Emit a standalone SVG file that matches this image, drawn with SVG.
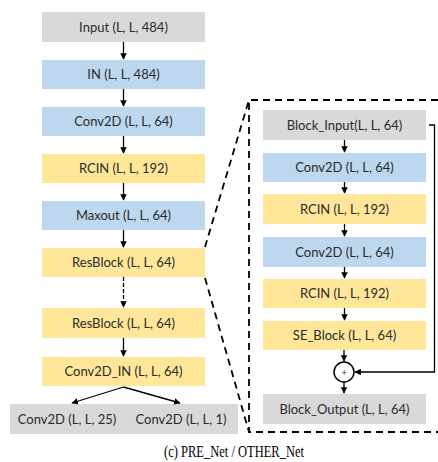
<svg xmlns="http://www.w3.org/2000/svg" width="438" height="462" viewBox="0 0 438 462">
<style>
.g{fill:#d9d9d9}.b{fill:#bdd7ee}.y{fill:#ffe699}
text{font-family:Lato,"Liberation Sans",Arial,sans-serif;font-size:13px;fill:#2b2b2b;text-anchor:middle}
.cap{font-family:"Liberation Serif","Times New Roman",serif;font-size:16px;fill:#000}
.ln{stroke:#000;stroke-width:1.3;fill:none}
.dl{stroke:#000;stroke-width:1.8;fill:none;stroke-dasharray:7,5}
</style>
<defs>
<marker id="ah" viewBox="0 0 10 10" refX="9" refY="5" markerWidth="5" markerHeight="5" orient="auto"><path d="M0,0L10,5L0,10z" fill="#000"/></marker>
</defs>
<g id="n-input"><rect class="g" x="42" y="12" width="163" height="30"/><text x="123.5" y="31.5">Input (L, L, 484)</text></g>
<g id="n-in"><rect class="b" x="42" y="60" width="163" height="29"/><text x="123.5" y="79">IN (L, L, 484)</text></g>
<g id="n-conv"><rect class="b" x="42" y="107" width="163" height="29"/><text x="123.5" y="126">Conv2D (L, L, 64)</text></g>
<g id="n-rcin"><rect class="y" x="42" y="154" width="163" height="29"/><text x="123.5" y="173">RCIN (L, L, 192)</text></g>
<g id="n-maxout"><rect class="b" x="42" y="201" width="163" height="29"/><text x="123.5" y="220">Maxout (L, L, 64)</text></g>
<g id="n-res1"><rect class="y" x="42" y="248" width="163" height="29"/><text x="123.5" y="267">ResBlock (L, L, 64)</text></g>
<g id="n-res2"><rect class="y" x="42" y="308" width="163" height="30"/><text x="123.5" y="327.5">ResBlock (L, L, 64)</text></g>
<g id="n-convin"><rect class="y" x="42" y="357" width="163" height="29"/><text x="123.5" y="376">Conv2D_IN (L, L, 64)</text></g>
<g id="n-out"><rect class="g" x="10" y="404" width="228" height="30"/><text x="67" y="423.5">Conv2D (L, L, 25)</text><text x="181" y="423.5">Conv2D (L, L, 1)</text></g>
<g id="n-panel"><path class="dl" d="M438,100H249V432H438"/></g>
<g id="n-bin"><rect class="g" x="263" y="110" width="163" height="30"/><text x="344.5" y="129.5">Block_Input(L, L, 64)</text></g>
<g id="n-bconv1"><rect class="b" x="263" y="153" width="163" height="29"/><text x="344.5" y="172">Conv2D (L, L, 64)</text></g>
<g id="n-brcin1"><rect class="y" x="263" y="194" width="163" height="30"/><text x="344.5" y="213.5">RCIN (L, L, 192)</text></g>
<g id="n-bconv2"><rect class="b" x="263" y="237" width="163" height="30"/><text x="344.5" y="256.5">Conv2D (L, L, 64)</text></g>
<g id="n-brcin2"><rect class="y" x="263" y="279" width="163" height="29"/><text x="344.5" y="298">RCIN (L, L, 192)</text></g>
<g id="n-se"><rect class="y" x="263" y="321" width="163" height="29"/><text x="344.5" y="340">SE_Block (L, L, 64)</text></g>
<g id="n-plus"><circle cx="344" cy="372" r="10" fill="#fff" stroke="#000" stroke-width="1.5"/><text x="344" y="375.5" style="font-size:9px">+</text></g>
<g id="n-bout"><rect class="g" x="263" y="394" width="163" height="30"/><text x="344.5" y="413.5">Block_Output (L, L, 64)</text></g>
<g id="connectors">
<line class="ln" x1="123.5" y1="42" x2="123.5" y2="59" marker-end="url(#ah)"/>
<line class="ln" x1="123.5" y1="89" x2="123.5" y2="106" marker-end="url(#ah)"/>
<line class="ln" x1="123.5" y1="136" x2="123.5" y2="153" marker-end="url(#ah)"/>
<line class="ln" x1="123.5" y1="183" x2="123.5" y2="200" marker-end="url(#ah)"/>
<line class="ln" x1="123.5" y1="230" x2="123.5" y2="247" marker-end="url(#ah)"/>
<line class="ln" x1="123.5" y1="277" x2="123.5" y2="307" stroke-dasharray="4,2" marker-end="url(#ah)"/>
<line class="ln" x1="123.5" y1="338" x2="123.5" y2="356" marker-end="url(#ah)"/>
<line class="ln" x1="123.5" y1="387" x2="72" y2="403" marker-end="url(#ah)"/>
<line class="ln" x1="123.5" y1="387" x2="180" y2="403" marker-end="url(#ah)"/>
<line class="dl" x1="205" y1="247" x2="249" y2="100"/>
<line class="dl" x1="205" y1="278" x2="249" y2="432"/>
<line class="ln" x1="344.5" y1="140" x2="344.5" y2="152" stroke-width="1" marker-end="url(#ah)"/>
<line class="ln" x1="344.5" y1="182" x2="344.5" y2="193" stroke-width="1" marker-end="url(#ah)"/>
<line class="ln" x1="344.5" y1="224" x2="344.5" y2="236" stroke-width="1" marker-end="url(#ah)"/>
<line class="ln" x1="344.5" y1="267" x2="344.5" y2="278" stroke-width="1" marker-end="url(#ah)"/>
<line class="ln" x1="344.5" y1="308" x2="344.5" y2="320" stroke-width="1" marker-end="url(#ah)"/>
<line class="ln" x1="344" y1="350" x2="344" y2="361" stroke-width="1" marker-end="url(#ah)"/>
<line class="ln" x1="344" y1="382" x2="344" y2="393" stroke-width="1" marker-end="url(#ah)"/>
<path class="ln" d="M429,125H434.5V372H355" stroke-width="1" marker-end="url(#ah)"/>
</g>
<text class="cap" x="234" y="457" textLength="140" lengthAdjust="spacingAndGlyphs">(c) PRE_Net / OTHER_Net</text>
</svg>
